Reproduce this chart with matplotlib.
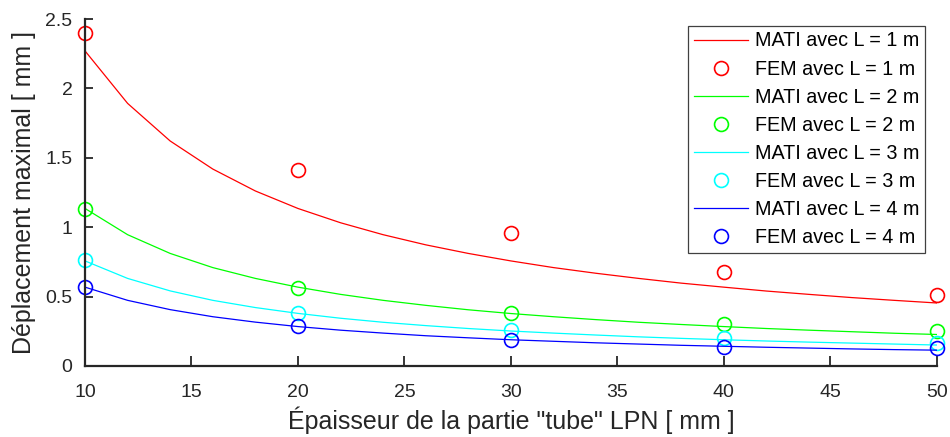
import matplotlib
matplotlib.use("Agg")
import matplotlib.pyplot as plt

plt.rcParams["font.family"] = ["Liberation Sans", "DejaVu Sans"]

# thickness of the "tube" part [mm]
x_mati = [10, 12, 14, 16, 18, 20, 22, 24, 26, 28, 30,
          32, 34, 36, 38, 40, 42, 44, 46, 48, 50]
x_fem = [10, 20, 30, 40, 50]

# MATI curves
mati_l1 = [2.270, 1.892, 1.621, 1.419, 1.261, 1.135, 1.032, 0.946, 0.873, 0.811, 0.757,
           0.709, 0.668, 0.631, 0.597, 0.568, 0.540, 0.516, 0.493, 0.473, 0.454]
mati_l2 = [1.135, 0.946, 0.811, 0.709, 0.631, 0.568, 0.516, 0.473, 0.437, 0.405, 0.378,
           0.355, 0.334, 0.315, 0.299, 0.284, 0.270, 0.258, 0.247, 0.236, 0.227]
mati_l3 = [0.757, 0.631, 0.541, 0.473, 0.421, 0.379, 0.344, 0.315, 0.291, 0.270, 0.252,
           0.237, 0.223, 0.210, 0.199, 0.189, 0.180, 0.172, 0.165, 0.158, 0.151]
mati_l4 = [0.568, 0.473, 0.406, 0.355, 0.316, 0.284, 0.258, 0.237, 0.218, 0.203, 0.189,
           0.178, 0.167, 0.158, 0.149, 0.142, 0.135, 0.129, 0.123, 0.118, 0.114]

# FEM results
fem_l1 = [2.40, 1.41, 0.955, 0.68, 0.51]
fem_l2 = [1.13, 0.564, 0.38, 0.30, 0.25]
fem_l3 = [0.764, 0.384, 0.257, 0.20, 0.163]
fem_l4 = [0.571, 0.288, 0.187, 0.139, 0.13]

lengths = [1, 2, 3, 4]
colors = ["#ff0000", "#00ff00", "#00ffff", "#0000ff"]
mati_series = [mati_l1, mati_l2, mati_l3, mati_l4]
fem_series = [fem_l1, fem_l2, fem_l3, fem_l4]

fig = plt.figure(figsize=(9.5, 4.37), dpi=100)
ax = fig.add_axes([0.0895, 0.1625, 0.8965, 0.794])

for L, c, m, f in zip(lengths, colors, mati_series, fem_series):
    ax.plot(x_mati, m, color=c, lw=0.9,
            label=f"MATI avec L = {L} m")
    ax.plot(x_fem, f, linestyle="none", marker="o", markersize=10,
            markerfacecolor="none", markeredgecolor=c, markeredgewidth=1.2,
            clip_on=False, label=f"FEM avec L = {L} m")

ax.set_xlim(10, 50)
ax.set_ylim(0, 2.5)
ax.set_xticks([10, 15, 20, 25, 30, 35, 40, 45, 50])
ax.set_yticks([0, 0.5, 1, 1.5, 2, 2.5])
ax.set_yticklabels(["0", "0.5", "1", "1.5", "2", "2.5"])

ax.spines["top"].set_visible(False)
ax.spines["right"].set_visible(False)
for s in ["left", "bottom"]:
    ax.spines[s].set_linewidth(1.6)
    ax.spines[s].set_color("#262626")

ax.tick_params(direction="in", width=1.3, colors="#262626", labelsize=14)
ax.tick_params(axis="x", length=7, pad=13)
ax.tick_params(axis="y", length=6, pad=9)

ax.set_xlabel('Épaisseur de la partie "tube" LPN [ mm ]',
              fontsize=18, color="#262626", labelpad=4)
ax.set_ylabel("Déplacement maximal [ mm ]",
              fontsize=18, color="#262626", labelpad=7)

leg = ax.legend(loc="upper right", fontsize=14.25, fancybox=False,
                framealpha=1, edgecolor="#404040", handlelength=2.75,
                borderaxespad=0, borderpad=0.28, labelspacing=0.46,
                handletextpad=0.35, bbox_to_anchor=(0.986, 0.98))
leg.get_frame().set_linewidth(0.9)

fig.savefig("out.png", dpi=100)
